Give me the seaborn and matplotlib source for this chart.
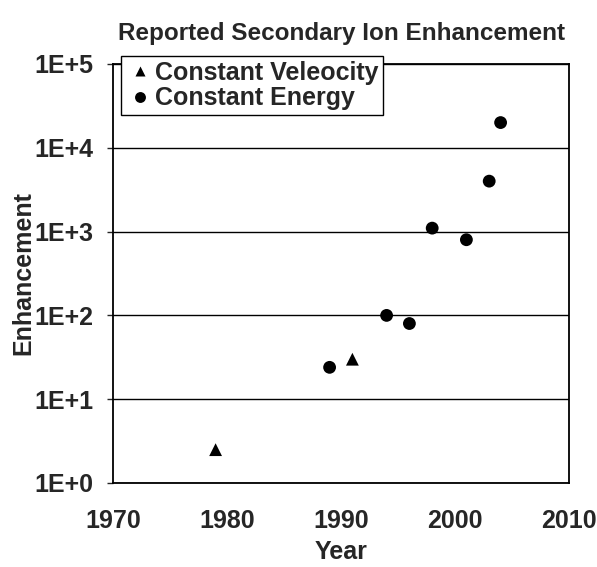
import numpy as np
import pandas as pd
import matplotlib
matplotlib.use("Agg")
import matplotlib.pyplot as plt
import matplotlib.ticker as mticker
import seaborn as sns

# data
velocity_years = [1979, 1991]
velocity_values = [2.5, 30]
energy_years = [1989, 1994, 1996, 1998, 2001, 2003, 2004]
energy_values = [24, 100, 80, 1100, 800, 4000, 20000]
series_names = ["Constant Veleocity", "Constant Energy"]

df = pd.DataFrame({
    "Year": velocity_years + energy_years,
    "Enhancement": velocity_values + energy_values,
    "series": [series_names[0]] * len(velocity_years) + [series_names[1]] * len(energy_years),
})

sns.set_style("white")
plt.rcParams["font.family"] = ["Liberation Sans", "DejaVu Sans"]
plt.rcParams["font.weight"] = "bold"

fig = plt.figure(figsize=(5.97, 5.67), dpi=100)
ax = fig.add_axes([113 / 597, 1 - 483 / 567, 456 / 597, 419 / 567])

sns.scatterplot(data=df, x="Year", y="Enhancement", style="series",
                markers={series_names[0]: "^", series_names[1]: "o"},
                color="black", s=85, edgecolor="none", ax=ax, zorder=3)

ax.set_yscale("log")
ax.set_ylim(1, 1e5)
ax.set_xlim(1970, 2010)
ax.set_xticks([1970, 1980, 1990, 2000, 2010])
ax.set_yticks([10.0 ** k for k in range(6)])
ax.yaxis.set_major_formatter(mticker.FuncFormatter(lambda v, p: f"1E+{int(round(np.log10(v)))}"))
ax.yaxis.set_minor_locator(mticker.NullLocator())
ax.grid(axis="y", color="black", linewidth=1.0)
ax.set_axisbelow(True)

for sp in ax.spines.values():
    sp.set_color("black")
    sp.set_linewidth(1.3)
ax.tick_params(axis="x", direction="in", length=5, width=1, labelsize=18, pad=19)
ax.tick_params(axis="y", direction="out", length=4, width=1, labelsize=18, pad=10, left=True)
for lab in ax.get_xticklabels() + ax.get_yticklabels():
    lab.set_fontweight("bold")

ax.set_xlabel("Year", fontsize=18, fontweight="bold", labelpad=5)
ax.set_ylabel("Enhancement", fontsize=18, fontweight="bold", labelpad=-1)
ax.set_title("Reported Secondary Ion Enhancement", fontsize=17.5, fontweight="bold", pad=17)

handles, labels = ax.get_legend_handles_labels()
leg = ax.legend(handles, labels, loc="upper left", bbox_to_anchor=(0.018, 1.019),
                borderaxespad=0, frameon=True, fancybox=False, framealpha=1,
                edgecolor="black", prop={"size": 18, "weight": "bold"},
                handletextpad=0.05, borderpad=0.2, labelspacing=0.05, markerscale=0.85,
                handlelength=1.1)
leg.get_frame().set_linewidth(1.0)
leg.set_zorder(5)

fig.savefig("out.png", dpi=100)
